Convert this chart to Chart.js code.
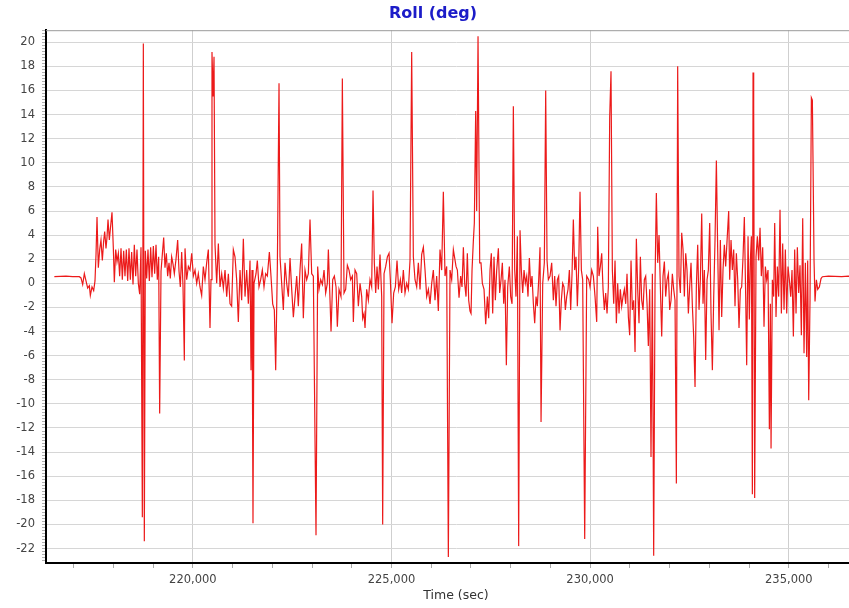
<!DOCTYPE html>
<html>
<head>
<meta charset="utf-8">
<script src="https://cdn.jsdelivr.net/npm/chart.js@4/dist/chart.umd.min.js"></script>
<style>
  html, body { margin: 0; padding: 0; background: #ffffff; overflow: hidden; }
  #wrap { width: 866px; height: 608px; }
</style>
</head>
<body>
<div id="wrap"><canvas id="c" width="866" height="608"></canvas></div>
<script>
// ---- data ----
const chartTitle = 'Roll (deg)';
const xAxisTitle = 'Time (sec)';
const xLabelTicks = [220000, 225000, 230000, 235000];
const xMinorTicks = [217000, 218000, 219000, 220000, 221000, 222000, 223000, 224000, 225000, 226000,
                     227000, 228000, 229000, 230000, 231000, 232000, 233000, 234000, 235000, 236000];
const yLabelTicks = [-22, -20, -18, -16, -14, -12, -10, -8, -6, -4, -2, 0, 2, 4, 6, 8, 10, 12, 14, 16, 18, 20];

const timeSec = [
  216514, 216807, 216975, 217143, 217185, 217227, 217269, 217311, 217353, 217395,
  217420, 217462, 217504, 217537, 217563, 217588, 217621, 217655, 217688, 217722,
  217755, 217781, 217814, 217839, 217865, 217898, 217932, 217965, 217999, 218024,
  218058, 218091, 218125, 218158, 218192, 218225, 218259, 218292, 218326, 218360,
  218393, 218427, 218460, 218494, 218527, 218561, 218594, 218628, 218662, 218695,
  218729, 218754, 218779, 218804, 218838, 218871, 218905, 218938, 218972, 219006,
  219039, 219073, 219106, 219140, 219165, 219199, 219232, 219266, 219299, 219333,
  219366, 219400, 219433, 219467, 219501, 219534, 219576, 219618, 219652, 219685,
  219719, 219752, 219786,
  219803, 219845, 219887, 219929, 219971, 220013, 220055, 220097, 220138, 220180,
  220222, 220264, 220306, 220348, 220390, 220432, 220457, 220482, 220508, 220533,
  220558, 220600, 220642, 220684, 220726, 220768, 220810, 220852, 220894, 220936,
  220977, 221019, 221061, 221103, 221145, 221187, 221229, 221271, 221313, 221355,
  221397, 221439, 221464, 221489, 221514, 221540, 221590, 221623, 221665, 221707,
  221749, 221791, 221833, 221875, 221926, 221967, 222009, 222051, 222085, 222127,
  222169, 222194, 222236, 222278, 222320, 222362, 222404, 222446, 222488, 222530,
  222572, 222614, 222655, 222697, 222739, 222781, 222823, 222865, 222907, 222949,
  222991, 223033,
  223100, 223142, 223176, 223218, 223260, 223302, 223343, 223385, 223411, 223453,
  223478, 223520, 223562, 223604, 223637, 223679, 223729, 223763, 223805, 223847,
  223889, 223931, 223973, 224015, 224040, 224082, 224124, 224166, 224208, 224250,
  224275, 224308, 224334, 224375, 224417, 224459, 224501, 224535, 224568, 224602,
  224636, 224669, 224711, 224753, 224778, 224812, 224854, 224896, 224938, 224971,
  225013, 225055, 225097, 225139, 225181, 225223, 225256, 225298, 225340, 225382,
  225424, 225466, 225508, 225550, 225592, 225634, 225676, 225718, 225760, 225802,
  225844, 225886, 225928, 225970, 226012, 226053, 226095, 226137, 226179, 226221,
  226263, 226305, 226347, 226389, 226431, 226473, 226515, 226557,
  226624, 226658, 226700, 226741, 226775, 226809, 226842, 226876, 226909, 226943,
  226976, 227002, 227027, 227060, 227085, 227119, 227144, 227178, 227220, 227253,
  227287, 227329, 227371, 227413, 227446, 227480, 227513, 227547, 227580, 227614,
  227648, 227690, 227723, 227757, 227790, 227824, 227857, 227891, 227925, 227966,
  228000, 228034, 228067, 228101, 228134, 228168, 228201, 228235, 228268, 228302,
  228336, 228369, 228403, 228436, 228470, 228503, 228537, 228571, 228604, 228638,
  228671, 228705, 228738, 228764, 228806, 228847, 228881, 228915, 228948, 228990,
  229032, 229074, 229107, 229141, 229175, 229208, 229242, 229275, 229309, 229342,
  229376, 229410, 229443, 229477, 229510, 229544, 229577, 229611, 229644, 229678,
  229712, 229745, 229779, 229812, 229863, 229913, 229963,
  229997, 230039, 230081, 230123, 230165, 230190, 230223, 230257, 230291, 230324,
  230358, 230391, 230425, 230458, 230492, 230525, 230559, 230593, 230626, 230660,
  230693, 230727, 230760, 230794, 230827, 230861, 230895, 230928, 230962, 230995,
  231029, 231062, 231096, 231130, 231163, 231197, 231230, 231264, 231297, 231331,
  231364, 231398, 231432, 231465, 231499, 231532, 231566, 231599, 231633, 231666,
  231700, 231734, 231767, 231801, 231834, 231868, 231901, 231935, 231969, 232002,
  232036, 232069, 232103, 232136, 232170, 232203, 232237, 232271, 232304, 232338,
  232371, 232405, 232438, 232472, 232505, 232539, 232573, 232606, 232640, 232673,
  232707, 232740, 232774, 232808, 232841, 232875, 232908, 232942, 232975, 233009,
  233042, 233076, 233110, 233143, 233177,
  233210, 233244, 233277, 233311, 233344, 233378, 233411, 233445, 233487, 233512,
  233546, 233579, 233613, 233646, 233680, 233714, 233747, 233781, 233814, 233848,
  233881, 233915, 233940, 233974, 234007, 234032, 234058, 234083, 234100, 234116,
  234141, 234175, 234209, 234242, 234276, 234309, 234343, 234376, 234410, 234443,
  234477, 234511, 234536, 234553, 234586, 234620, 234645, 234678, 234712, 234745,
  234779, 234813, 234846, 234880, 234913, 234947, 234980, 235014, 235048, 235081,
  235115, 235148, 235182, 235215, 235249, 235282, 235316, 235350, 235383, 235417,
  235450, 235475, 235501, 235534, 235568, 235593, 235610, 235635, 235660, 235694,
  235727, 235769, 235811, 235845, 235996, 236331, 236499, 236600
];

const rollDeg = [
  0.55, 0.6, 0.55, 0.55, 0.45, -0.1, 0.8, 0.2, -0.4, -0.2,
  -1.0, -0.3, -0.6, 0.2, 2.4, 5.5, 1.3, 2.8, 3.6, 1.9,
  3.5, 4.3, 2.9, 3.8, 5.3, 3.6, 4.8, 5.9, 2.9, 0.1,
  2.8, 1.8, 2.5, 0.6, 2.9, 0.3, 2.7, 0.6, 2.8, 0.2,
  2.9, 0.3, 2.6, -0.1, 3.2, 0.6, 2.8, 0.0, -0.9, 3.0,
  -19.4, 19.9, -21.4, 2.7, 0.4, 2.8, 0.2, 3.0, 0.5, 3.1,
  0.8, 3.2, 0.3, 2.2, -10.8, 1.0, 2.4, 3.8, 1.3, 2.5,
  0.6, 1.7, 0.4, 2.2, 1.6, 0.8, 2.0, 3.6, 1.0, -0.3,
  2.6, -0.2, -6.4,
  2.9, 0.3, 1.4, 1.1, 2.5, 0.6, 1.1, 0.0, 0.8, -0.3,
  -1.0, 1.4, 0.3, 1.7, 2.8, -3.7, 0.3, 19.2, 15.5, 18.8,
  3.2, 0.0, 3.3, -0.3, 0.8, -0.4, 1.1, -1.1, 0.8, -1.7,
  -1.9, 2.8, 2.2, 0.3, -3.2, 1.1, -1.4, 3.7, -1.1, 1.1,
  -1.7, 1.9, -7.2, 1.1, -19.9, 0.0, 0.8, 1.9, -0.3, 0.3,
  1.1, -0.3, 0.8, 0.6, 2.6, 0.6, -1.7, -2.2, -7.2, 1.4,
  16.6, 2.2, 0.0, -2.2, 1.7, 0.0, -1.1, 2.1, -0.5, -2.8,
  -1.1, 0.6, -1.9, 1.1, 3.3, -2.9, 1.1, 0.3, 0.8, 5.3,
  0.8, 0.6,
  -20.9, 1.4, -0.5, 0.3, -0.1, 1.1, -0.8, 0.0, 2.8, -1.4,
  -4.0, 0.3, 0.6, -0.3, -3.6, -0.5, -1.1, 17.0, -0.8, -0.5,
  1.5, 1.1, 0.3, 0.6, -3.2, 1.1, 0.8, -1.9, 0.0, -1.1,
  -2.9, -2.5, -3.7, -0.5, -1.4, 0.3, -0.3, 7.7, 1.7, -0.8,
  1.4, -0.5, 2.4, -1.1, -20.0, 0.8, 1.4, 2.2, 2.5, 0.3,
  -3.3, -0.8, -0.3, 1.9, -0.5, 0.3, -0.8, 1.1, -0.8, 0.0,
  -0.5, 1.9, 19.2, 2.2, 0.3, -0.3, 1.7, -0.5, 2.4, 3.0,
  1.1, -1.1, -0.5, -1.7, 0.0, 1.1, -1.4, 0.6, -2.3, 2.8,
  1.1, 7.6, 0.6, 1.4, -22.7, 1.1, 0.3, 2.8,
  1.4, 1.1, -1.2, 0.6, -0.3, 3.0, 0.0, -1.1, 2.5, -1.4,
  -2.3, -2.5, 1.1, 3.5, 5.0, 14.3, 6.0, 20.5, 1.7, 1.7,
  0.0, -0.5, -3.4, -1.1, -2.9, 1.1, 2.5, -2.5, 2.2, -1.4,
  1.1, 2.9, -0.8, 0.3, 1.7, -1.7, 0.3, -6.8, -0.3, 1.4,
  -1.1, -1.7, 14.7, 1.1, -1.1, 3.9, -21.8, 4.4, 1.1, -0.8,
  1.1, 0.0, 0.6, -1.1, 2.1, -0.3, 0.6, -1.7, -3.3, -1.1,
  -1.9, 0.3, 3.0, -11.5, 0.0, 1.7, 16.0, 1.9, 0.3, 0.6,
  1.7, -1.4, 0.6, -1.9, 0.3, 0.6, -3.9, -1.4, 0.0, -0.3,
  -2.2, -1.1, -0.5, 1.1, -2.2, 0.8, 5.3, 1.1, 2.2, -1.9,
  1.4, 7.6, 1.1, 0.3, -21.2, 0.6, 0.3,
  -0.3, 1.1, 0.6, -1.1, -3.2, 4.7, 0.6, 1.4, 2.5, -0.5,
  -2.2, -0.8, -2.5, -0.3, 13.8, 17.6, 1.1, -1.7, 1.9, -3.3,
  0.0, -2.5, -0.5, -1.9, -1.1, -0.5, -1.7, 0.8, -2.8, -4.3,
  1.9, -2.2, -1.4, -5.7, 3.7, -0.5, -3.3, 2.2, -1.4, -2.2,
  0.3, 0.6, -1.7, -5.2, -0.5, -14.4, 0.8, -22.6, 0.0, 7.5,
  1.7, 4.0, -0.3, -4.4, 0.6, 1.8, -1.1, 0.3, 0.8, -2.2,
  -1.4, 0.8, -0.5, -1.4, -16.6, 18.0, 0.6, -0.8, 4.2, 2.8,
  -1.1, 2.5, 1.1, -2.5, -0.3, 1.7, -1.9, -4.4, -8.6, -0.3,
  3.2, -2.2, 0.3, 5.8, -1.7, 1.1, -6.35, 0.3, 1.1, 5.0,
  -2.5, -7.2, -1.1, 3.6, 10.2,
  2.8, -3.9, 3.6, -2.8, 1.1, 3.2, 1.4, 3.5, 6.0, 0.3,
  3.6, 1.1, 2.8, -1.9, 2.5, 0.3, -3.7, -0.5, -0.3, 2.2,
  5.5, -1.1, -6.8, 3.9, -3.0, 1.9, 3.9, -17.5, 17.5, 14.6,
  -17.8, 2.2, 3.9, 1.9, 4.6, 0.6, 3.0, -3.6, 1.4, 0.3,
  1.1, -12.1, -1.7, -13.7, 0.3, -1.1, 5.0, -2.8, 1.4, -1.1,
  6.1, -2.5, 3.3, -2.2, 2.8, -2.5, 1.4, 0.3, -1.1, 1.1,
  -4.4, 2.8, -2.5, 3.0, -0.8, 1.5, -4.3, 5.4, -5.8, 1.7,
  -6.1, 1.9, -9.7, -1.4, 15.4, 15.2, 10.0, 1.9, -1.5, 0.3,
  -0.5, -0.3, 0.4, 0.55, 0.6, 0.55, 0.6, 0.55
];

// ---- chart ----
const points = timeSec.map((t, i) => ({ x: t, y: rollDeg[i] }));

// y minor tick marks every 0.25 between the labelled ones
const yMinorTicks = [];
for (let k = -92; k <= 84; k++) yMinorTicks.push(k / 4);

const topBorder = {
  id: 'topBorder',
  afterDraw(chart) {
    const { ctx, chartArea } = chart;
    ctx.save();
    ctx.strokeStyle = '#9a9a9a';
    ctx.lineWidth = 1;
    ctx.beginPath();
    ctx.moveTo(chartArea.left, chartArea.top + 0.5);
    ctx.lineTo(chartArea.right, chartArea.top + 0.5);
    ctx.stroke();
    ctx.restore();
  }
};

new Chart(document.getElementById('c'), {
  type: 'line',
  data: {
    datasets: [{
      data: points,
      borderColor: '#ec1a1a',
      borderWidth: 1.2,
      pointRadius: 0,
      tension: 0,
      fill: false
    }]
  },
  options: {
    responsive: false,
    animation: false,
    devicePixelRatio: 1,
    layout: { padding: 0 },
    plugins: {
      legend: { display: false },
      tooltip: { enabled: false },
      title: {
        display: true,
        text: chartTitle,
        color: '#1c1cc8',
        font: { family: 'DejaVu Sans', size: 16, weight: 'bold', lineHeight: 1.2 },
        padding: { top: 4, bottom: 7 }
      }
    },
    scales: {
      x: {
        type: 'linear',
        min: 216304,
        max: 236943,
        afterBuildTicks: s => { s.ticks = xMinorTicks.map(v => ({ value: v })); },
        afterFit: s => { s.height = 45; },
        border: { color: '#000000', width: 2 },
        grid: {
          color: c => (c.tick && xLabelTicks.includes(c.tick.value)) ? '#cfcfcf' : 'rgba(0,0,0,0)',
          tickColor: '#a8a8a8',
          tickLength: 5,
          lineWidth: 1
        },
        ticks: {
          autoSkip: false,
          maxRotation: 0,
          padding: 5,
          color: '#444444',
          font: { family: 'DejaVu Sans', size: 11.5 },
          callback: v => xLabelTicks.includes(v) ? v.toLocaleString('en-US') : ''
        },
        title: {
          display: true,
          text: xAxisTitle,
          color: '#333333',
          font: { family: 'DejaVu Sans', size: 12.5, lineHeight: 1.2 },
          padding: { top: 0, bottom: 5 }
        }
      },
      y: {
        type: 'linear',
        min: -23.2,
        max: 21.0,
        afterBuildTicks: s => { s.ticks = yMinorTicks.map(v => ({ value: v })); },
        afterFit: s => { s.width = 46; },
        border: { color: '#000000', width: 2 },
        grid: {
          color: c => (c.tick && yLabelTicks.includes(c.tick.value)) ? '#d6d6d6' : 'rgba(0,0,0,0)',
          tickColor: '#b0b0b0',
          tickLength: 4,
          lineWidth: 1
        },
        ticks: {
          autoSkip: false,
          padding: 7,
          color: '#444444',
          font: { family: 'DejaVu Sans', size: 11.5 },
          callback: v => yLabelTicks.includes(v) ? String(v) : ''
        }
      }
    }
  },
  plugins: [topBorder]
});
</script>
</body>
</html>
